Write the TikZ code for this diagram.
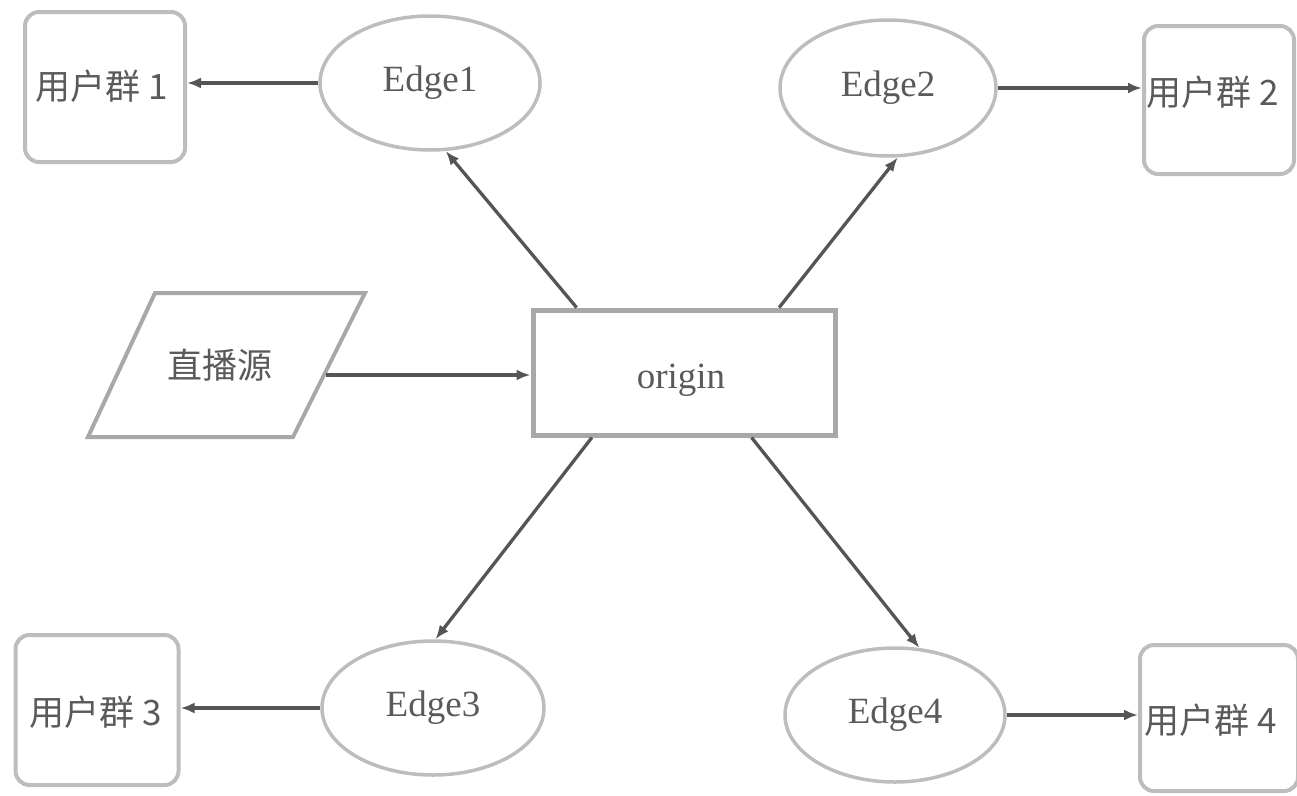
\documentclass[tikz,border=0pt]{standalone}
\usepackage{fontspec}
\setmainfont{Liberation Serif}
\newfontfamily\cjk{Noto Sans CJK SC}
\usetikzlibrary{shapes.geometric,arrows.meta,calc}
\definecolor{edgegray}{HTML}{BDBDBD}
\definecolor{boxgray}{HTML}{A8A8A8}
\definecolor{linegray}{HTML}{555555}
\definecolor{textgray}{HTML}{5A5A5A}
\tikzset{
  usergrp/.style={draw=edgegray, line width=4pt, rounded corners=14pt, inner sep=0pt},
  grptext/.style={text=textgray, font=\fontsize{35}{38}\selectfont\cjk, inner sep=0pt},
  edgenode/.style={draw=edgegray, line width=3.5pt, ellipse, inner sep=0pt, text=textgray, font=\fontsize{37}{40}\selectfont},
  conn/.style={draw=linegray, line width=3.3pt, -{Latex[length=14pt,width=11pt]}},
}
\begin{document}
\begin{tikzpicture}[x=1pt,y=-1pt]
\useasboundingbox (0,0) rectangle (1297,795);
% user groups
\node[usergrp, minimum width=160pt, minimum height=150pt] (u1) at (105,87) {};
\node[grptext] (u1t) at (102,86) {用户群 1};
\node[usergrp, minimum width=150pt, minimum height=148pt] (u2) at (1219,100) {};
\node[grptext, anchor=west] (u2t) at (1146,92) {用户群 2};
\node[usergrp, minimum width=163pt, minimum height=150pt] (u3) at (97,710) {};
\node[grptext] (u3t) at (96,712) {用户群 3};
\node[usergrp, minimum width=158pt, minimum height=146pt] (u4) at (1219,718) {};
\node[grptext, anchor=west] (u4t) at (1144,720) {用户群 4};
% edges
\node[edgenode, minimum width=220pt, minimum height=134pt] (e1) at (430,83) {Edge1};
\node[edgenode, minimum width=216pt, minimum height=136pt] (e2) at (888,88) {Edge2};
\node[edgenode, minimum width=222pt, minimum height=134pt] (e3) at (433,708) {Edge3};
\node[edgenode, minimum width=220pt, minimum height=134pt] (e4) at (895,715) {Edge4};
% origin
\node[draw=boxgray, line width=5pt, minimum width=302pt, minimum height=125pt, inner sep=0pt] (org) at (684,372.5) {};
\node[text=textgray, font=\fontsize{37}{40}\selectfont, inner sep=0pt] (orgt) at (681,380) {origin};
% source parallelogram
\draw[draw=boxgray, line width=4pt] (155,293) -- (365,293) -- (293,437) -- (88,437) -- cycle;
\node[grptext] (src) at (220,365) {直播源};
\coordinate (srcr) at (326,375);
% connectors
\draw[conn] (e1.west) -- (u1.east |- e1.west);
\draw[conn] (e2.east) -- (u2.west |- e2.east);
\draw[conn] (e3.west) -- (u3.east |- e3.west);
\draw[conn] (e4.east) -- (u4.west |- e4.east);
\draw[conn] (srcr) -- (org.west |- srcr);
\draw[conn] ($(org.north west)!0.15!(org.north east)$) -- (e1.-77);
\draw[conn] ($(org.north west)!0.81!(org.north east)$) -- (e2.-82);
\draw[conn] ($(org.south west)!0.2!(org.south east)$) -- (e3.88);
\draw[conn] ($(org.south west)!0.72!(org.south east)$) -- (e4.70);
\end{tikzpicture}
\end{document}
